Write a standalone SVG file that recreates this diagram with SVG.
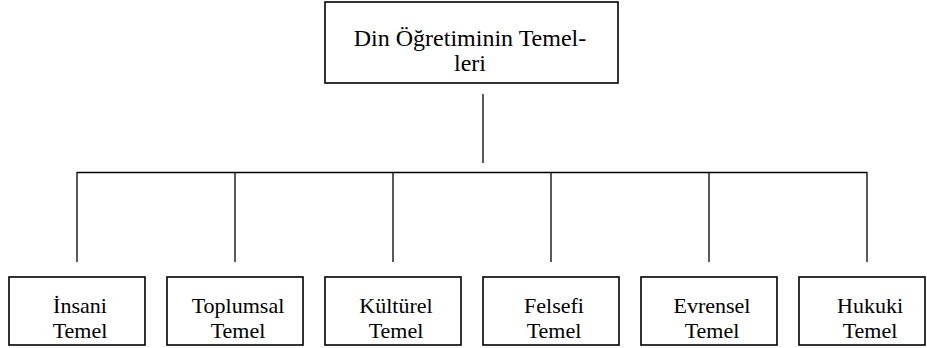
<svg xmlns="http://www.w3.org/2000/svg" width="927" height="348" viewBox="0 0 927 348">
<style>
.box{fill:#fff;stroke:#000;stroke-width:1.6}
.ln{fill:none;stroke:#000;stroke-width:1.3}
text{fill:#000;text-anchor:middle}
.t{font-size:24px}
.s{font-size:22px}
</style>
<rect width="927" height="348" fill="#fff"/>
<g id="connectors">
<line class="ln" x1="483" y1="94" x2="483" y2="163"/>
<line class="ln" x1="77" y1="172.5" x2="867" y2="172.5"/>
<line class="ln" x1="77" y1="172" x2="77" y2="262"/>
<line class="ln" x1="235" y1="172" x2="235" y2="262"/>
<line class="ln" x1="393" y1="172" x2="393" y2="262"/>
<line class="ln" x1="551" y1="172" x2="551" y2="262"/>
<line class="ln" x1="709" y1="172" x2="709" y2="262"/>
<line class="ln" x1="867" y1="172" x2="867" y2="262"/>
</g>
<g font-family="'Liberation Serif', 'Times New Roman', 'DejaVu Serif', serif">
<g id="root">
<rect class="box" x="325" y="2" width="293" height="81"/>
<text class="t" x="470" y="46">Din Öğretiminin Temel-</text>
<text class="t" x="470" y="71">leri</text>
</g>
<g id="insani">
<rect class="box" x="9" y="277" width="136" height="68"/>
<text class="s" x="80" y="313">İnsani</text>
<text class="s" x="80" y="337.5">Temel</text>
</g>
<g id="toplumsal">
<rect class="box" x="167" y="277" width="136" height="68"/>
<text class="s" x="238" y="313">Toplumsal</text>
<text class="s" x="238" y="337.5">Temel</text>
</g>
<g id="kulturel">
<rect class="box" x="325" y="277" width="136" height="68"/>
<text class="s" x="396" y="313">Kültürel</text>
<text class="s" x="396" y="337.5">Temel</text>
</g>
<g id="felsefi">
<rect class="box" x="483" y="277" width="136" height="68"/>
<text class="s" x="554" y="313">Felsefi</text>
<text class="s" x="554" y="337.5">Temel</text>
</g>
<g id="evrensel">
<rect class="box" x="641" y="277" width="136" height="68"/>
<text class="s" x="712" y="313">Evrensel</text>
<text class="s" x="712" y="337.5">Temel</text>
</g>
<g id="hukuki">
<rect class="box" x="799" y="277" width="126" height="68"/>
<text class="s" x="870" y="313">Hukuki</text>
<text class="s" x="870" y="337.5">Temel</text>
</g>
</g>
</svg>
